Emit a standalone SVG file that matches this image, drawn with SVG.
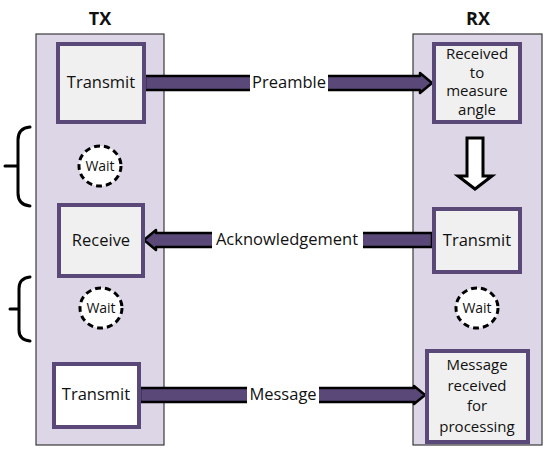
<svg xmlns="http://www.w3.org/2000/svg" width="550" height="455" viewBox="0 0 550 455">
<defs>
<style>
.col{fill:#dcd6e6;stroke:#3a3a3a;stroke-width:1.2}
.box{fill:#f0f0f0;stroke:#5a4878;stroke-width:4}
.boxw{fill:#ffffff;stroke:#5a4878;stroke-width:4}
.t{font-family:"Open Sans","DejaVu Sans",sans-serif;font-size:16.5px;fill:#111;text-anchor:middle}
.m{font-family:"Open Sans","DejaVu Sans",sans-serif;font-size:15px;fill:#111;text-anchor:middle}
.h{font-family:"Open Sans","DejaVu Sans",sans-serif;font-size:18px;font-weight:bold;fill:#111;text-anchor:middle}
.wait{fill:#ffffff;stroke:#000;stroke-width:3;stroke-dasharray:6 4}
.wt{font-family:"Open Sans","DejaVu Sans",sans-serif;font-size:14px;fill:#111;text-anchor:middle}
.band{fill:#5a4878;stroke:#000;stroke-width:2.5;stroke-linejoin:round}
.brace{fill:none;stroke:#000;stroke-width:3;stroke-linecap:round}
.lbl{font-family:"Open Sans","DejaVu Sans",sans-serif;font-size:16.5px;fill:#111;text-anchor:middle}
</style>
</defs>
<rect width="550" height="455" fill="#ffffff"/>
<g id="tx-column">
<text class="h" x="100" y="25">TX</text>
<rect class="col" x="36" y="34" width="128" height="411"/>
</g>
<g id="rx-column">
<text class="h" x="478" y="25">RX</text>
<rect class="col" x="413" y="34" width="129" height="411"/>
</g>
<g id="braces">
<path class="brace" d="M30,127 Q18,128 18,140 L18,193 Q18,205 30,206 M5,166 L18,166"/>
<path class="brace" d="M30,277 Q19,278 19,289 L19,330 Q19,340 30,341 M10,309 L19,309"/>
</g>
<g id="connectors">
<path class="band" d="M145,76 L420,76 L420,73 L432,83 L420,93 L420,90 L145,90 Z"/>
<rect x="250" y="72" width="78" height="22" fill="#ffffff"/>
<text class="lbl" x="289" y="88">Preamble</text>
<path class="band" d="M432,233 L156,233 L156,230 L144,240 L156,250 L156,247 L432,247 Z"/>
<rect x="212" y="229" width="151" height="22" fill="#ffffff"/>
<text class="lbl" x="287" y="245">Acknowledgement</text>
<path class="band" d="M140,388 L414,388 L414,386 L425,395 L414,404 L414,402 L140,402 Z"/>
<rect x="247" y="384" width="72" height="22" fill="#ffffff"/>
<text class="lbl" x="283" y="400">Message</text>
<path d="M467,138 L483,138 L483,176 L492,176 L475,189 L458,176 L467,176 Z" fill="#ffffff" stroke="#000" stroke-width="3" stroke-linejoin="miter"/>
</g>
<g id="tx-transmit">
<rect class="box" x="58" y="44" width="86" height="78"/>
<text class="t" x="101" y="88">Transmit</text>
</g>
<g id="tx-wait1">
<ellipse class="wait" cx="100" cy="166" rx="21" ry="20"/>
<text class="wt" x="100" y="171">Wait</text>
</g>
<g id="tx-receive">
<rect class="box" x="59" y="205" width="84" height="71"/>
<text class="t" x="101" y="246">Receive</text>
</g>
<g id="tx-wait2">
<ellipse class="wait" cx="101" cy="308" rx="21" ry="20"/>
<text class="wt" x="101" y="313">Wait</text>
</g>
<g id="tx-transmit2">
<rect class="boxw" x="54" y="364" width="85" height="63"/>
<text class="t" x="96" y="400">Transmit</text>
</g>
<g id="rx-received">
<rect class="box" x="434" y="44" width="86" height="78"/>
<text class="m" x="477" y="59">Received</text>
<text class="m" x="477" y="77.5">to</text>
<text class="m" x="477" y="96">measure</text>
<text class="m" x="477" y="114.5">angle</text>
</g>
<g id="rx-transmit">
<rect class="box" x="434" y="209" width="86" height="63"/>
<text class="t" x="477" y="246">Transmit</text>
</g>
<g id="rx-wait">
<ellipse class="wait" cx="477" cy="308" rx="21" ry="20"/>
<text class="wt" x="477" y="313">Wait</text>
</g>
<g id="rx-message">
<rect class="box" x="427" y="351" width="101" height="91"/>
<text class="m" x="477" y="370">Message</text>
<text class="m" x="477" y="390.5">received</text>
<text class="m" x="477" y="411">for</text>
<text class="m" x="477" y="431.5">processing</text>
</g>
</svg>
